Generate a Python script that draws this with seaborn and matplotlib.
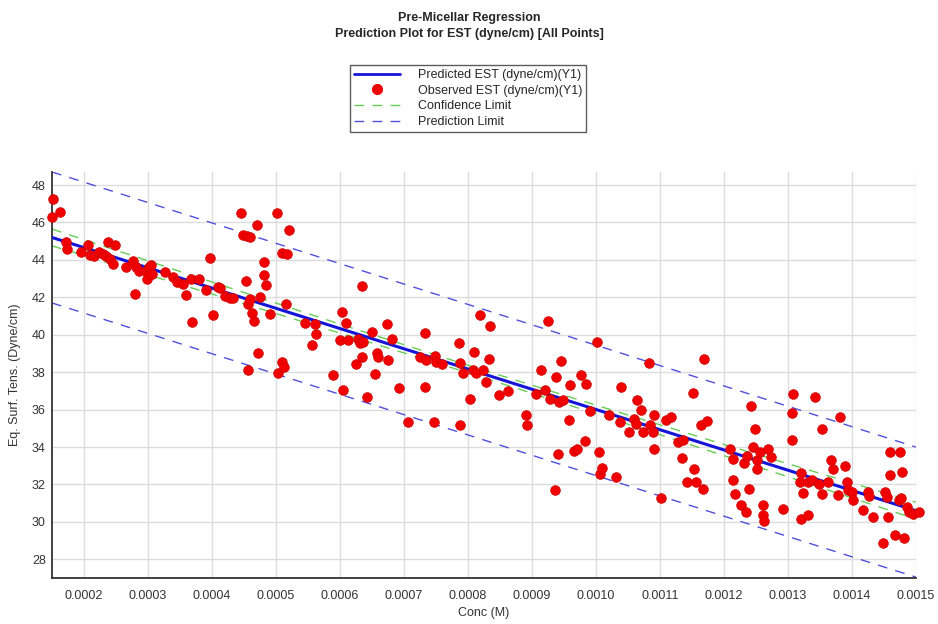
import numpy as np
import pandas as pd
import seaborn as sns
import matplotlib.pyplot as plt
from matplotlib.lines import Line2D
from matplotlib.ticker import MultipleLocator, FormatStrFormatter

# Observed points
conc = [
    0.000152, 0.000150, 0.000163, 0.000172, 0.000174, 0.000195, 0.000207, 0.000210,
    0.000215, 0.000224, 0.000229, 0.000238, 0.000248, 0.000234, 0.000241, 0.000245,
    0.000266, 0.000277, 0.000282, 0.000280, 0.000286, 0.000297, 0.000298, 0.000302,
    0.000304, 0.000306, 0.000327, 0.000339, 0.000345, 0.000355, 0.000359, 0.000369,
    0.000368, 0.000379, 0.000397, 0.000391, 0.000402, 0.000410, 0.000413, 0.000420,
    0.000428, 0.000433, 0.000445, 0.000448, 0.000454, 0.000460, 0.000453, 0.000457,
    0.000459, 0.000462, 0.000465, 0.000456, 0.000471, 0.000472, 0.000475, 0.000481,
    0.000481, 0.000484, 0.000491, 0.000501, 0.000504, 0.000510, 0.000510, 0.000513,
    0.000516, 0.000517, 0.000521, 0.000545, 0.000556, 0.000561, 0.000562, 0.000589,
    0.000600, 0.000604, 0.000605, 0.000610, 0.000613, 0.000625, 0.000629, 0.000632,
    0.000636, 0.000635, 0.000635, 0.000643, 0.000650, 0.000655, 0.000658, 0.000660,
    0.000673, 0.000675, 0.000682, 0.000692, 0.000706, 0.000725, 0.000733, 0.000733,
    0.000735, 0.000747, 0.000748, 0.000750, 0.000759, 0.000786, 0.000788, 0.000788,
    0.000792, 0.000803, 0.000808, 0.000809, 0.000812, 0.000819, 0.000823, 0.000829,
    0.000833, 0.000834, 0.000849, 0.000863, 0.000891, 0.000892, 0.000907, 0.000914,
    0.000920, 0.000925, 0.000929, 0.000936, 0.000938, 0.000941, 0.000943, 0.000946,
    0.000949, 0.000958, 0.000960, 0.000965, 0.000970, 0.000976, 0.000983, 0.000984,
    0.000990, 0.001001, 0.001005, 0.001006, 0.001009, 0.001021, 0.001031, 0.001038,
    0.001040, 0.001052, 0.001059, 0.001063, 0.001065, 0.001070, 0.001073, 0.001083,
    0.001084, 0.001089, 0.001091, 0.001091, 0.001101, 0.001110, 0.001118, 0.001129,
    0.001134, 0.001136, 0.001142, 0.001152, 0.001153, 0.001157, 0.001165, 0.001168,
    0.001169, 0.001173, 0.001209, 0.001215, 0.001215, 0.001217, 0.001227, 0.001231,
    0.001235, 0.001236, 0.001240, 0.001243, 0.001245, 0.001248, 0.001252, 0.001252,
    0.001256, 0.001261, 0.001261, 0.001262, 0.001269, 0.001274, 0.001293, 0.001306,
    0.001307, 0.001308, 0.001319, 0.001321, 0.001321, 0.001324, 0.001331, 0.001331,
    0.001338, 0.001342, 0.001349, 0.001353, 0.001354, 0.001363, 0.001367, 0.001370,
    0.001379, 0.001381, 0.001389, 0.001392, 0.001394, 0.001400, 0.001401, 0.001417,
    0.001425, 0.001427, 0.001433, 0.001448, 0.001452, 0.001455, 0.001457, 0.001460,
    0.001460, 0.001467, 0.001474, 0.001475, 0.001477, 0.001479, 0.001481, 0.001486,
    0.001489, 0.001495, 0.001505,
]
est = [
    47.25, 46.27, 46.54, 44.97, 44.60, 44.43, 44.80, 44.26,
    44.20, 44.43, 44.30, 44.97, 44.80, 44.20, 44.03, 43.78,
    43.60, 43.95, 43.60, 42.17, 43.42, 43.42, 42.96, 43.60,
    43.72, 43.24, 43.36, 43.10, 42.83, 42.71, 42.12, 40.69,
    43.00, 43.00, 44.11, 42.39, 41.05, 42.56, 42.48, 42.06,
    41.99, 41.94, 46.52, 45.33, 45.27, 45.24, 42.88, 41.64,
    41.89, 41.14, 40.74, 38.14, 45.86, 39.03, 42.03, 43.90,
    43.19, 42.65, 41.10, 46.49, 37.93, 44.38, 38.55, 38.28,
    41.67, 44.31, 45.59, 40.64, 39.44, 40.57, 40.03, 37.84,
    39.71, 41.22, 37.04, 40.64, 39.71, 38.43, 39.80, 39.57,
    39.62, 42.60, 38.82, 36.68, 40.16, 37.88, 39.00, 38.79,
    40.55, 38.64, 39.80, 37.13, 35.34, 38.82, 40.07, 37.21,
    38.64, 35.34, 38.86, 38.55, 38.46, 39.57, 38.50, 35.20,
    37.96, 36.59, 38.14, 39.09, 37.93, 41.05, 38.10, 37.48,
    38.73, 40.46, 36.77, 36.98, 35.70, 35.17, 36.82, 38.14,
    37.04, 40.74, 36.59, 31.69, 37.75, 33.61, 36.41, 38.60,
    36.50, 35.47, 37.30, 33.79, 33.92, 37.84, 34.33, 37.36,
    35.93, 39.62, 33.74, 32.58, 32.90, 35.70, 32.40, 35.34,
    37.21, 34.81, 35.52, 35.25, 36.54, 35.97, 34.81, 38.50,
    35.17, 34.81, 35.70, 33.92, 31.30, 35.43, 35.61, 34.27,
    33.44, 34.36, 32.13, 36.90, 32.85, 32.13, 35.17, 31.78,
    38.68, 35.40, 33.92, 33.38, 32.26, 31.51, 30.89, 33.15,
    30.53, 33.51, 31.78, 36.18, 34.00, 34.99, 33.29, 32.85,
    33.74, 30.89, 30.35, 30.05, 33.87, 33.47, 30.71, 35.82,
    34.40, 36.86, 32.13, 32.61, 30.18, 31.55, 32.13, 30.35,
    32.22, 36.68, 32.05, 31.48, 34.99, 32.13, 33.33, 32.80,
    31.42, 35.58, 32.97, 32.13, 31.69, 31.60, 31.16, 30.66,
    31.60, 31.37, 30.26, 28.87, 31.60, 31.33, 30.26, 33.74,
    32.49, 29.30, 31.19, 33.74, 31.30, 32.67, 29.12, 30.77,
    30.53, 30.44, 30.53,
]

# Fitted line and limits
line_x = [0.00015, 0.0015]
pred_y = [45.2, 30.6]
pred_upper = [48.7, 34.0]
pred_lower = [41.7, 27.05]

conf_x = [0.00015, 0.0004, 0.0006, 0.0008, 0.0010, 0.0012, 0.0015]
conf_upper = [45.65, 42.82, 40.57, 38.37, 36.24, 34.14, 31.05]
conf_lower = [44.75, 42.18, 40.09, 37.97, 35.78, 33.54, 30.15]

x_ticks = [0.0002, 0.0003, 0.0004, 0.0005, 0.0006, 0.0007, 0.0008,
           0.0009, 0.0010, 0.0011, 0.0012, 0.0013, 0.0014, 0.0015]
y_ticks = [28, 30, 32, 34, 36, 38, 40, 42, 44, 46, 48]

obs = pd.DataFrame({"conc": conc, "est": est})

sns.set_style("white")
plt.rcParams["font.family"] = ["Liberation Sans", "DejaVu Sans"]

fig = plt.figure(figsize=(9.38, 6.24), dpi=100)
ax = fig.add_axes([0.0554, 0.0737, 0.921, 0.6507])

blue = "#1515d8"
green = "#66cc55"
pblue = "#5050dd"

sns.lineplot(x=line_x, y=pred_upper, ax=ax, color=pblue, lw=1, zorder=2)
ax.lines[-1].set_dashes([7, 6])
sns.lineplot(x=line_x, y=pred_lower, ax=ax, color=pblue, lw=1, zorder=2)
ax.lines[-1].set_dashes([7, 6])
sns.lineplot(x=conf_x, y=conf_upper, ax=ax, color=green, lw=1, zorder=2)
ax.lines[-1].set_dashes([7, 6])
sns.lineplot(x=conf_x, y=conf_lower, ax=ax, color=green, lw=1, zorder=2)
ax.lines[-1].set_dashes([7, 6])
sns.lineplot(x=line_x, y=pred_y, ax=ax, color=blue, lw=2.2, zorder=3)
sns.scatterplot(data=obs, x="conc", y="est", ax=ax, color="#f00000",
                edgecolor="#c80000", linewidth=0.4, s=50, zorder=4, clip_on=False)

ax.set_xlim(0.00015, 0.0015)
ax.set_ylim(27, 48.7)
ax.set_xticks(x_ticks)
ax.set_yticks(y_ticks)
ax.xaxis.set_major_formatter(FormatStrFormatter("%.4f"))
ax.yaxis.set_major_formatter(FormatStrFormatter("%d"))
ax.xaxis.set_minor_locator(MultipleLocator(0.00005))
ax.yaxis.set_minor_locator(MultipleLocator(1))
ax.grid(True, which="major", color="#dcdcdc", lw=1)
ax.set_axisbelow(True)
ax.tick_params(which="both", direction="inout", length=5, width=1,
               color="#333333", labelsize=9, labelcolor="#333333")
ax.tick_params(which="minor", length=4)
ax.tick_params(axis="x", pad=6)
ax.tick_params(axis="y", pad=2)
for side in ["top", "right"]:
    ax.spines[side].set_visible(False)
for side in ["left", "bottom"]:
    ax.spines[side].set_color("#333333")
    ax.spines[side].set_linewidth(1.3)

ax.set_xlabel("Conc (M)", fontsize=9, color="#333333", labelpad=4)
ax.set_ylabel("Eq. Surf. Tens. (Dyne/cm)", fontsize=9, color="#333333", labelpad=8)

fig.text(0.5, 1 - 18 / 624, "Pre-Micellar Regression", ha="center", va="center",
         fontsize=9, fontweight="bold")
fig.text(0.5, 1 - 34 / 624, "Prediction Plot for EST (dyne/cm) [All Points]",
         ha="center", va="center", fontsize=9, fontweight="bold")

handles = [
    Line2D([], [], color=blue, lw=2),
    Line2D([], [], color="#f00000", marker="o", ls="none", markersize=7),
    Line2D([], [], color=green, lw=1, dashes=[7, 6]),
    Line2D([], [], color=pblue, lw=1, dashes=[7, 6]),
]
labels = ["Predicted EST (dyne/cm)(Y1)", "Observed EST (dyne/cm)(Y1)",
          "Confidence Limit", "Prediction Limit"]
leg = fig.legend(handles, labels, loc="center", bbox_to_anchor=(468 / 938, 1 - 98.5 / 624),
                 fontsize=9, frameon=True, fancybox=False, handlelength=3.7,
                 handletextpad=1.4, labelspacing=0.3, borderpad=0.3, borderaxespad=0)
leg.get_frame().set_edgecolor("#333333")
leg.get_frame().set_linewidth(1)

fig.savefig("out.png", dpi=100)
